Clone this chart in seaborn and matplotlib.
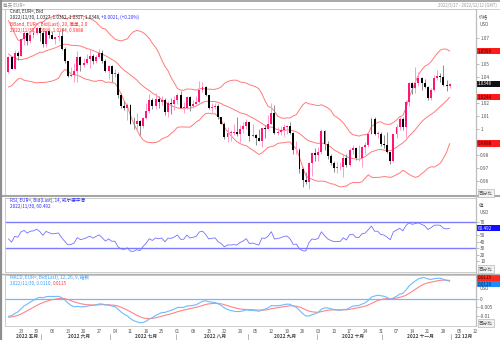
import numpy as np
import pandas as pd
import matplotlib
matplotlib.use("Agg")
import matplotlib.pyplot as plt
from matplotlib.lines import Line2D
from matplotlib.patches import Rectangle
from matplotlib.transforms import blended_transform_factory
import seaborn as sns

sns.set_theme(style="white")
plt.rcParams["font.family"] = ["Noto Sans CJK SC", "DejaVu Sans"]

# ---------------------------------------------------------------- data
# closes before the visible window, used to seed the indicators (2022-02-01 .. 2022-05-16)
warmup_close = [
    1.1270, 1.1300, 1.1440, 1.1450, 1.1440, 1.1415, 1.1425, 1.1420, 1.1350, 1.1305,
    1.1360, 1.1375, 1.1360, 1.1320, 1.1310, 1.1325, 1.1310, 1.1195, 1.1270, 1.1220,
    1.1125, 1.1120, 1.1065, 1.0930, 1.0855, 1.0905, 1.1075, 1.0985, 1.0910, 1.0940,
    1.0955, 1.1035, 1.1095, 1.1050, 1.1015, 1.1015, 1.1000, 1.0995, 1.0985, 1.0985,
    1.1085, 1.1160, 1.1065,
    1.1045, 1.0970, 1.0905, 1.0900, 1.0880, 1.0875, 1.0885, 1.0830, 1.0890, 1.0825,
    1.0810, 1.0780, 1.0785, 1.0855, 1.0835, 1.0795, 1.0715, 1.0640, 1.0560, 1.0500,
    1.0545,
    1.0505, 1.0525, 1.0620, 1.0540, 1.0550, 1.0560, 1.0530, 1.0515, 1.0380, 1.0410,
    1.0435,
]

# daily EUR= candles, 2022-05-17 .. 2022-11-30
open_ = [
    1.0440, 1.0550, 1.0465, 1.0585, 1.0565, 1.0690, 1.0735, 1.0675, 1.0725, 1.0735, 1.0780,
    1.0735, 1.0650, 1.0750, 1.0720, 1.0695, 1.0705, 1.0715, 1.0615, 1.0520, 1.0410, 1.0415,
    1.0445, 1.0550, 1.0495, 1.0510, 1.0535, 1.0565, 1.0520, 1.0555, 1.0585, 1.0520, 1.0445,
    1.0485, 1.0425, 1.0425, 1.0265, 1.0180, 1.0160, 1.0185, 1.0040, 1.0035, 1.0060, 1.0020,
    1.0085, 1.0140, 1.0225, 1.0180, 1.0230, 1.0210, 1.0225, 1.0130, 1.0200, 1.0195,
    1.0220, 1.0260, 1.0165, 1.0165, 1.0245, 1.0180, 1.0195, 1.0210, 1.0300, 1.0320, 1.0260,
    1.0160, 1.0170, 1.0180, 1.0090, 1.0040, 0.9940, 0.9970, 0.9970, 0.9975, 0.9965, 1.0000,
    1.0020,
    1.0055, 0.9945, 0.9955, 0.9930, 0.9905, 1.0010, 1.0000, 1.0040, 1.0120, 0.9970, 0.9980,
    0.9995, 1.0015, 1.0025, 0.9970, 0.9835, 0.9840, 0.9690, 0.9605, 0.9595, 0.9735, 0.9815,
    0.9800, 0.9825, 0.9985, 0.9885, 0.9790, 0.9740, 0.9700, 0.9705, 0.9705, 0.9780, 0.9720,
    0.9840, 0.9855, 0.9775, 0.9775, 0.9860, 0.9875, 0.9965, 1.0080, 0.9965, 0.9965,
    0.9885, 0.9875, 0.9820, 0.9750, 0.9960, 1.0015, 1.0075, 1.0015, 1.0210, 1.0355, 1.0315,
    1.0355, 1.0390, 1.0355, 1.0325, 1.0240, 1.0300, 1.0395, 1.0405, 1.0400, 1.0340, 1.0327,
]
high = [
    1.0560, 1.0565, 1.0605, 1.0600, 1.0695, 1.0750, 1.0740, 1.0735, 1.0765, 1.0787, 1.0785,
    1.0765, 1.0750, 1.0765, 1.0750, 1.0710, 1.0750, 1.0775, 1.0630, 1.0525, 1.0475, 1.0505,
    1.0600, 1.0560, 1.0545, 1.0580, 1.0605, 1.0580, 1.0570, 1.0615, 1.0605, 1.0535, 1.0490,
    1.0490, 1.0460, 1.0435, 1.0275, 1.0215, 1.0200, 1.0190, 1.0095, 1.0125, 1.0070, 1.0095,
    1.0200, 1.0270, 1.0240, 1.0280, 1.0255, 1.0255, 1.0235, 1.0215, 1.0235, 1.0255,
    1.0275, 1.0295, 1.0210, 1.0255, 1.0250, 1.0225, 1.0250, 1.0370, 1.0365, 1.0330, 1.0265,
    1.0200, 1.0200, 1.0190, 1.0095, 1.0050, 1.0015, 0.9995, 1.0035, 1.0090, 1.0030, 1.0055,
    1.0080,
    1.0055, 1.0035, 0.9960, 1.0000, 1.0010, 1.0030, 1.0110, 1.0200, 1.0185, 1.0015, 1.0020,
    1.0035, 1.0030, 1.0050, 0.9975, 0.9905, 0.9850, 0.9710, 0.9670, 0.9745, 0.9815, 0.9855,
    0.9860, 0.9999, 0.9995, 0.9905, 0.9810, 0.9755, 0.9745, 0.9745, 0.9810, 0.9805,
    0.9850, 0.9875, 0.9865, 0.9875, 0.9870, 0.9900, 0.9975, 1.0095, 1.0090, 0.9985, 0.9980,
    0.9955, 0.9975, 0.9825, 0.9965, 1.0035, 1.0095, 1.0095, 1.0225, 1.0365, 1.0365, 1.0480,
    1.0440, 1.0400, 1.0385, 1.0330, 1.0315, 1.0415, 1.0450, 1.0430, 1.0495, 1.0380, 1.0352,
]
low = [
    1.0430, 1.0460, 1.0460, 1.0530, 1.0560, 1.0645, 1.0645, 1.0660, 1.0700, 1.0730, 1.0680,
    1.0628, 1.0630, 1.0700, 1.0690, 1.0655, 1.0675, 1.0610, 1.0505, 1.0400, 1.0400, 1.0360,
    1.0360, 1.0445, 1.0480, 1.0500, 1.0470, 1.0500, 1.0510, 1.0545, 1.0510, 1.0440, 1.0385,
    1.0365, 1.0400, 1.0235, 1.0160, 1.0145, 1.0070, 1.0035, 0.9998, 0.9998, 0.9952, 1.0005,
    1.0080, 1.0125, 1.0155, 1.0155, 1.0160, 1.0185, 1.0110, 1.0095, 1.0115, 1.0145,
    1.0190, 1.0160, 1.0125, 1.0150, 1.0140, 1.0160, 1.0190, 1.0200, 1.0285, 1.0255, 1.0150,
    1.0120, 1.0150, 1.0080, 1.0035, 0.9925, 0.9900, 0.9910, 0.9950, 0.9945, 0.9900, 0.9970,
    1.0000,
    0.9910, 0.9935, 0.9875, 0.9905, 0.9865, 0.9930, 1.0000, 1.0040, 0.9965, 0.9955, 0.9955,
    0.9945, 0.9965, 0.9965, 0.9810, 0.9808, 0.9665, 0.9550, 0.9575, 0.9535, 0.9635, 0.9750,
    0.9750, 0.9810, 0.9835, 0.9770, 0.9725, 0.9670, 0.9665, 0.9685, 0.9630, 0.9705,
    0.9715, 0.9805, 0.9760, 0.9755, 0.9705, 0.9810, 0.9860, 0.9960, 0.9955, 0.9930, 0.9870,
    0.9855, 0.9815, 0.9730, 0.9745, 0.9930, 0.9995, 0.9990, 0.9935, 1.0180, 1.0270, 1.0275,
    1.0330, 1.0300, 1.0315, 1.0225, 1.0225, 1.0290, 1.0380, 1.0360, 1.0330, 1.0290, 1.0317,
]
close = [
    1.0550, 1.0465, 1.0585, 1.0562, 1.0690, 1.0735, 1.0675, 1.0725, 1.0735, 1.0780, 1.0735,
    1.0650, 1.0750, 1.0720, 1.0695, 1.0705, 1.0715, 1.0615, 1.0520, 1.0410, 1.0415, 1.0445,
    1.0550, 1.0495, 1.0510, 1.0535, 1.0565, 1.0520, 1.0555, 1.0585, 1.0520, 1.0445, 1.0485,
    1.0425, 1.0425, 1.0265, 1.0180, 1.0160, 1.0185, 1.0040, 1.0035, 1.0060, 1.0020, 1.0085,
    1.0140, 1.0225, 1.0180, 1.0230, 1.0210, 1.0225, 1.0130, 1.0200, 1.0195, 1.0220,
    1.0260, 1.0165, 1.0165, 1.0245, 1.0180, 1.0195, 1.0210, 1.0300, 1.0320, 1.0260, 1.0160,
    1.0170, 1.0180, 1.0090, 1.0040, 0.9940, 0.9970, 0.9970, 0.9975, 0.9965, 1.0000, 1.0020,
    1.0055,
    0.9945, 0.9955, 0.9930, 0.9905, 1.0010, 1.0000, 1.0040, 1.0120, 0.9970, 0.9980, 0.9995,
    1.0015, 1.0025, 0.9970, 0.9835, 0.9840, 0.9690, 0.9605, 0.9595, 0.9735, 0.9815, 0.9800,
    0.9825, 0.9985, 0.9885, 0.9790, 0.9740, 0.9700, 0.9705, 0.9705, 0.9780, 0.9720,
    0.9840, 0.9855, 0.9775, 0.9775, 0.9860, 0.9875, 0.9965, 1.0080, 0.9965, 0.9965, 0.9885,
    0.9875, 0.9820, 0.9750, 0.9960, 1.0015, 1.0075, 1.0015, 1.0210, 1.0355, 1.0315, 1.0355,
    1.0390, 1.0355, 1.0325, 1.0240, 1.0300, 1.0395, 1.0405, 1.0400, 1.0340, 1.0327, 1.0348,
]

month_names = {5: "五月", 6: "六月", 7: "七月", 8: "八月", 9: "九月",
               10: "十月", 11: "十一月", 12: "12月"}

# ---------------------------------------------------------------- series
dates = pd.bdate_range("2022-05-17", "2022-11-30")
axis_dates = pd.bdate_range("2022-05-17", "2022-12-12")
warm_dates = pd.bdate_range("2022-02-01", "2022-05-16")
assert len(open_) == len(high) == len(low) == len(close) == len(dates)
assert len(warmup_close) == len(warm_dates)

o = np.array(open_); h = np.array(high); l = np.array(low); c = np.array(close)
idx = np.arange(len(dates))
n_warm = len(warmup_close)

full = pd.Series(warmup_close + close)
mid = full.rolling(20).mean()
sd = full.rolling(20).std(ddof=0)
upper, lower = mid + 2 * sd, mid - 2 * sd

delta = full.diff()
gain = delta.clip(lower=0).ewm(alpha=1 / 14, adjust=False).mean()
loss = (-delta.clip(upper=0)).ewm(alpha=1 / 14, adjust=False).mean()
rsi = 100 - 100 / (1 + gain / loss)

macd = full.ewm(span=12, adjust=False).mean() - full.ewm(span=26, adjust=False).mean()
signal = macd.ewm(span=9, adjust=False).mean()

ind = pd.DataFrame({
    "i": idx,
    "upper": upper.values[n_warm:], "mid": mid.values[n_warm:], "lower": lower.values[n_warm:],
    "rsi": rsi.values[n_warm:], "macd": macd.values[n_warm:], "signal": signal.values[n_warm:],
})

# ---------------------------------------------------------------- layout
W, H = 500, 340
fig = plt.figure(figsize=(W / 100, H / 100), dpi=100)
fig.patch.set_facecolor("white")

def fx(px):
    return px / W

def fy(py):
    return 1 - py / H

def axes_px(x0, y0, x1, y1):
    return fig.add_axes([fx(x0), fy(y1), (x1 - x0) / W, (y1 - y0) / H])

ax_p = axes_px(5, 9, 476, 195)
ax_r = axes_px(5, 198, 476, 272)
ax_m = axes_px(5, 275, 476, 326)

XLIM = (-1.1, 149.4)
ax_p.set_ylim(0.9492, 1.0923)
ax_r.set_ylim(-6.9, 106.9)
ax_m.set_ylim(-0.0163, 0.0148)

TXT = "#555555"
for ax in (ax_p, ax_r, ax_m):
    ax.set_xlim(*XLIM)
    ax.set_facecolor("white")
    for s in ax.spines.values():
        s.set_color("#c4c4c4")
        s.set_linewidth(0.6)
    ax.set_xticks([])
    ax.yaxis.tick_right()
    ax.tick_params(axis="y", direction="out", length=2, width=0.4, color="#888888",
                   labelsize=3.4, labelcolor=TXT, pad=1)

# ---------------------------------------------------------------- price panel
UP, DN, UP_WICK, DN_WICK = "#ff1478", "#000000", "#ff9cc8", "#8c8c8c"
up = c >= o
ax_p.vlines(idx, l, h, colors=np.where(up, UP_WICK, DN_WICK), linewidth=0.7, zorder=2)
ax_p.bar(idx, np.maximum(np.abs(c - o), 0.0003), bottom=np.minimum(o, c), width=0.62,
         color=np.where(up, UP, DN), linewidth=0, zorder=3)

BB = "#ff7b7b"
for col in ("upper", "mid", "lower"):
    sns.lineplot(data=ind, x="i", y=col, ax=ax_p, color=BB, linewidth=0.7, legend=False, zorder=1)

price_ticks = [0.96, 0.97, 0.98, 1.0, 1.01, 1.02, 1.04, 1.05, 1.07]
ax_p.set_yticks(price_ticks)
ax_p.set_yticklabels([f"{v:.2f}".rstrip("0").rstrip(".") for v in price_ticks])

# ---------------------------------------------------------------- RSI panel
RSI_C = "#7272ff"
for lev in (70, 30):
    ax_r.axhline(lev, color="#7c7cff", linewidth=1.0, zorder=1)
sns.lineplot(data=ind, x="i", y="rsi", ax=ax_r, color=RSI_C, linewidth=0.6, legend=False, zorder=2)
rsi_ticks = [10, 20, 30, 40, 50, 70]
ax_r.set_yticks(rsi_ticks)
ax_r.set_yticklabels([str(v) for v in rsi_ticks])

# ---------------------------------------------------------------- MACD panel
MACD_C, SIG_C = "#6cbcff", "#ff8585"
ax_m.axhline(0, color="#74b9ff", linewidth=0.9, zorder=1)
sns.lineplot(data=ind, x="i", y="signal", ax=ax_m, color=SIG_C, linewidth=0.8, legend=False, zorder=2)
sns.lineplot(data=ind, x="i", y="macd", ax=ax_m, color=MACD_C, linewidth=0.8, legend=False, zorder=3)
macd_ticks = [-0.01, -0.005, 0]
ax_m.set_yticks(macd_ticks)
ax_m.set_yticklabels(["-0.01", "-0.005", "0"])

for ax in (ax_p, ax_r, ax_m):
    ax.set_xlabel("")
    ax.set_ylabel("")

# ---------------------------------------------------------------- value boxes on the right
def px_per_unit(ax):
    y0, y1 = ax.get_ylim()
    return ax.get_position().height * H / (y1 - y0)

def value_box(ax, value, text, face, fg, shift_px=0.0):
    ppu = px_per_unit(ax)
    tr = blended_transform_factory(fig.transFigure, ax.transData)
    yc = value + shift_px / ppu
    ax.add_patch(Rectangle((fx(477), yc - 3.2 / ppu), fx(500) - fx(477), 6.4 / ppu,
                           transform=tr, facecolor=face, edgecolor="none", clip_on=False, zorder=6))
    ax.text(fx(478), yc, text, transform=tr, fontsize=3.3, color=fg, va="center", ha="left",
            clip_on=False, zorder=7)

last = ind.iloc[-1]
value_box(ax_p, last["upper"], f"{last['upper']:.4f}", "#ff1a1a", "#3a0000")
value_box(ax_p, c[-1], f"{c[-1]:.4f}", "#111111", "white")
value_box(ax_p, last["mid"], f"{last['mid']:.4f}", "#ff1a1a", "#3a0000")
value_box(ax_p, last["lower"], f"{last['lower']:.4f}", "#ff1a1a", "#3a0000")
value_box(ax_r, last["rsi"], f"{last['rsi']:.3f}", "#1010ff", "white")
hi_v, lo_v = max(last["macd"], last["signal"]), min(last["macd"], last["signal"])
gap = (hi_v - lo_v) * px_per_unit(ax_m)
push = max(0.0, (6.4 - gap) / 2)
value_box(ax_m, last["signal"], f"{last['signal']:.4f}", "#ff2a1a", "#3a0000",
          push if last["signal"] >= last["macd"] else -push)
value_box(ax_m, last["macd"], f"{last['macd']:.4f}", "#1e8cff", "#002a55",
          push if last["macd"] > last["signal"] else -push)

def unit_label(px_y, text, boxed=False):
    kw = dict(fontsize=3.3, color=TXT, va="center", ha="left")
    if boxed:
        kw["bbox"] = dict(boxstyle="square,pad=0.25", fc="#f2f2f2", ec="#a8a8a8", lw=0.4)
    fig.text(fx(479), fy(px_y), text, **kw)

unit_label(17, "价格")
unit_label(24, "USD")
unit_label(193, "百分比", boxed=True)
unit_label(206, "值")
unit_label(213, "USD")
unit_label(269, "百分比", boxed=True)
unit_label(289, "USD")
unit_label(323, "百分比", boxed=True)

# ---------------------------------------------------------------- header texts
HF = 3.3
d_last = dates[-1].strftime("%Y/%m/%d")
chg = c[-1] - c[-2]
fig.text(fx(10), fy(11), "Cndl, EUR=, Bid", fontsize=HF, color="#222222", va="center")
t1 = fig.text(fx(10), fy(17.5),
              f"{d_last}, {o[-1]:.4f}, {h[-1]:.4f}, {l[-1]:.4f}, {c[-1]:.4f}, ",
              fontsize=HF, color="#222222", va="center")
fig.texts[-1].axes = None
ax_p.annotate(f"{chg:+.4f}, ({chg / c[-2] * 100:+.2f}%)", xy=(1, 0.5), xycoords=t1,
              va="center", ha="left", fontsize=HF, color="#2a2aff", annotation_clip=False)
fig.text(fx(10), fy(24), "BBand, EUR=, Bid(Last), 20, 简单, 2.0", fontsize=HF, color="#ff2a2a", va="center")
fig.text(fx(10), fy(30.5), f"{d_last}, {last['upper']:.4f}, {last['mid']:.4f}, {last['lower']:.4f}",
         fontsize=HF, color="#ff2a2a", va="center")

fig.text(fx(10), fy(200.5), "RSI, EUR=, Bid(Last), 14, 威尔德平滑", fontsize=HF, color="#2a2aff", va="center")
fig.text(fx(10), fy(206.5), f"{d_last}, {last['rsi']:.3f}", fontsize=HF, color="#2a2aff", va="center")

fig.text(fx(10), fy(277.5), "MACD, EUR=, Bid(Last), 12, 26, 9, 指数", fontsize=HF, color="#2e9cff", va="center")
t2 = fig.text(fx(10), fy(283.5), f"{d_last}, {last['macd']:.4f}, ", fontsize=HF, color="#2e9cff", va="center")
ax_m.annotate(f"{last['signal']:.4f}", xy=(1, 0.5), xycoords=t2, va="center", ha="left",
              fontsize=HF, color="#ff3a3a", annotation_clip=False)

# title strip
fig.text(fx(3), fy(4.8), "每天 EUR=", fontsize=3.3, color="#8a8a8a", va="center")
fig.text(fx(497), fy(5), "2022/5/17 - 2022/12/12 (GMT)", fontsize=3.1, color="#9a9a9a",
         va="center", ha="right")

# ---------------------------------------------------------------- date axis
tr_date = blended_transform_factory(ax_m.transData, fig.transFigure)
for i, d in enumerate(axis_dates):
    if d.weekday() == 0:
        ax_m.text(i, fy(331.5), f"{d.day:02d}", transform=tr_date, fontsize=3.3, color=TXT,
                  ha="center", va="center", clip_on=False)
months = pd.Series(np.arange(len(axis_dates)), index=axis_dates).groupby(axis_dates.month)
for k, (m, grp) in enumerate(months):
    first, lastpos = grp.iloc[0], grp.iloc[-1]
    label = f"2022 {month_names[m]}" if m != 12 else f"22 {month_names[m]}"
    ax_m.text((first + lastpos) / 2 + (1.0 if m != 12 else 0), fy(336.5), label, transform=tr_date,
              fontsize=3.4, color="#444444", fontweight="bold", ha="center", va="center", clip_on=False)
    if k > 0:
        ax_m.add_line(Line2D([first - 0.5, first - 0.5], [fy(333.5), fy(339.5)], transform=tr_date,
                             color="#9a9a9a", linewidth=0.5, clip_on=False))

# ---------------------------------------------------------------- frame lines
def hline(py, x0, x1, color, lw):
    fig.add_artist(Line2D([fx(x0), fx(x1)], [fy(py), fy(py)], color=color, linewidth=lw))

def vline(px, y0, y1, color, lw):
    fig.add_artist(Line2D([fx(px), fx(px)], [fy(y0), fy(y1)], color=color, linewidth=lw))

hline(0.8, 0, 500, "#a8a8a8", 1.4)
hline(8.5, 0, 500, "#c8c8c8", 0.6)
hline(196.5, 0, 500, "#a6a6a6", 1.5)
hline(273.5, 0, 500, "#b0b0b0", 1.0)
vline(1.2, 0, 340, "#8e8e8e", 1.6)
vline(476, 9, 326, "#bdbdbd", 0.9)

fig.savefig("out.png", dpi=100)
